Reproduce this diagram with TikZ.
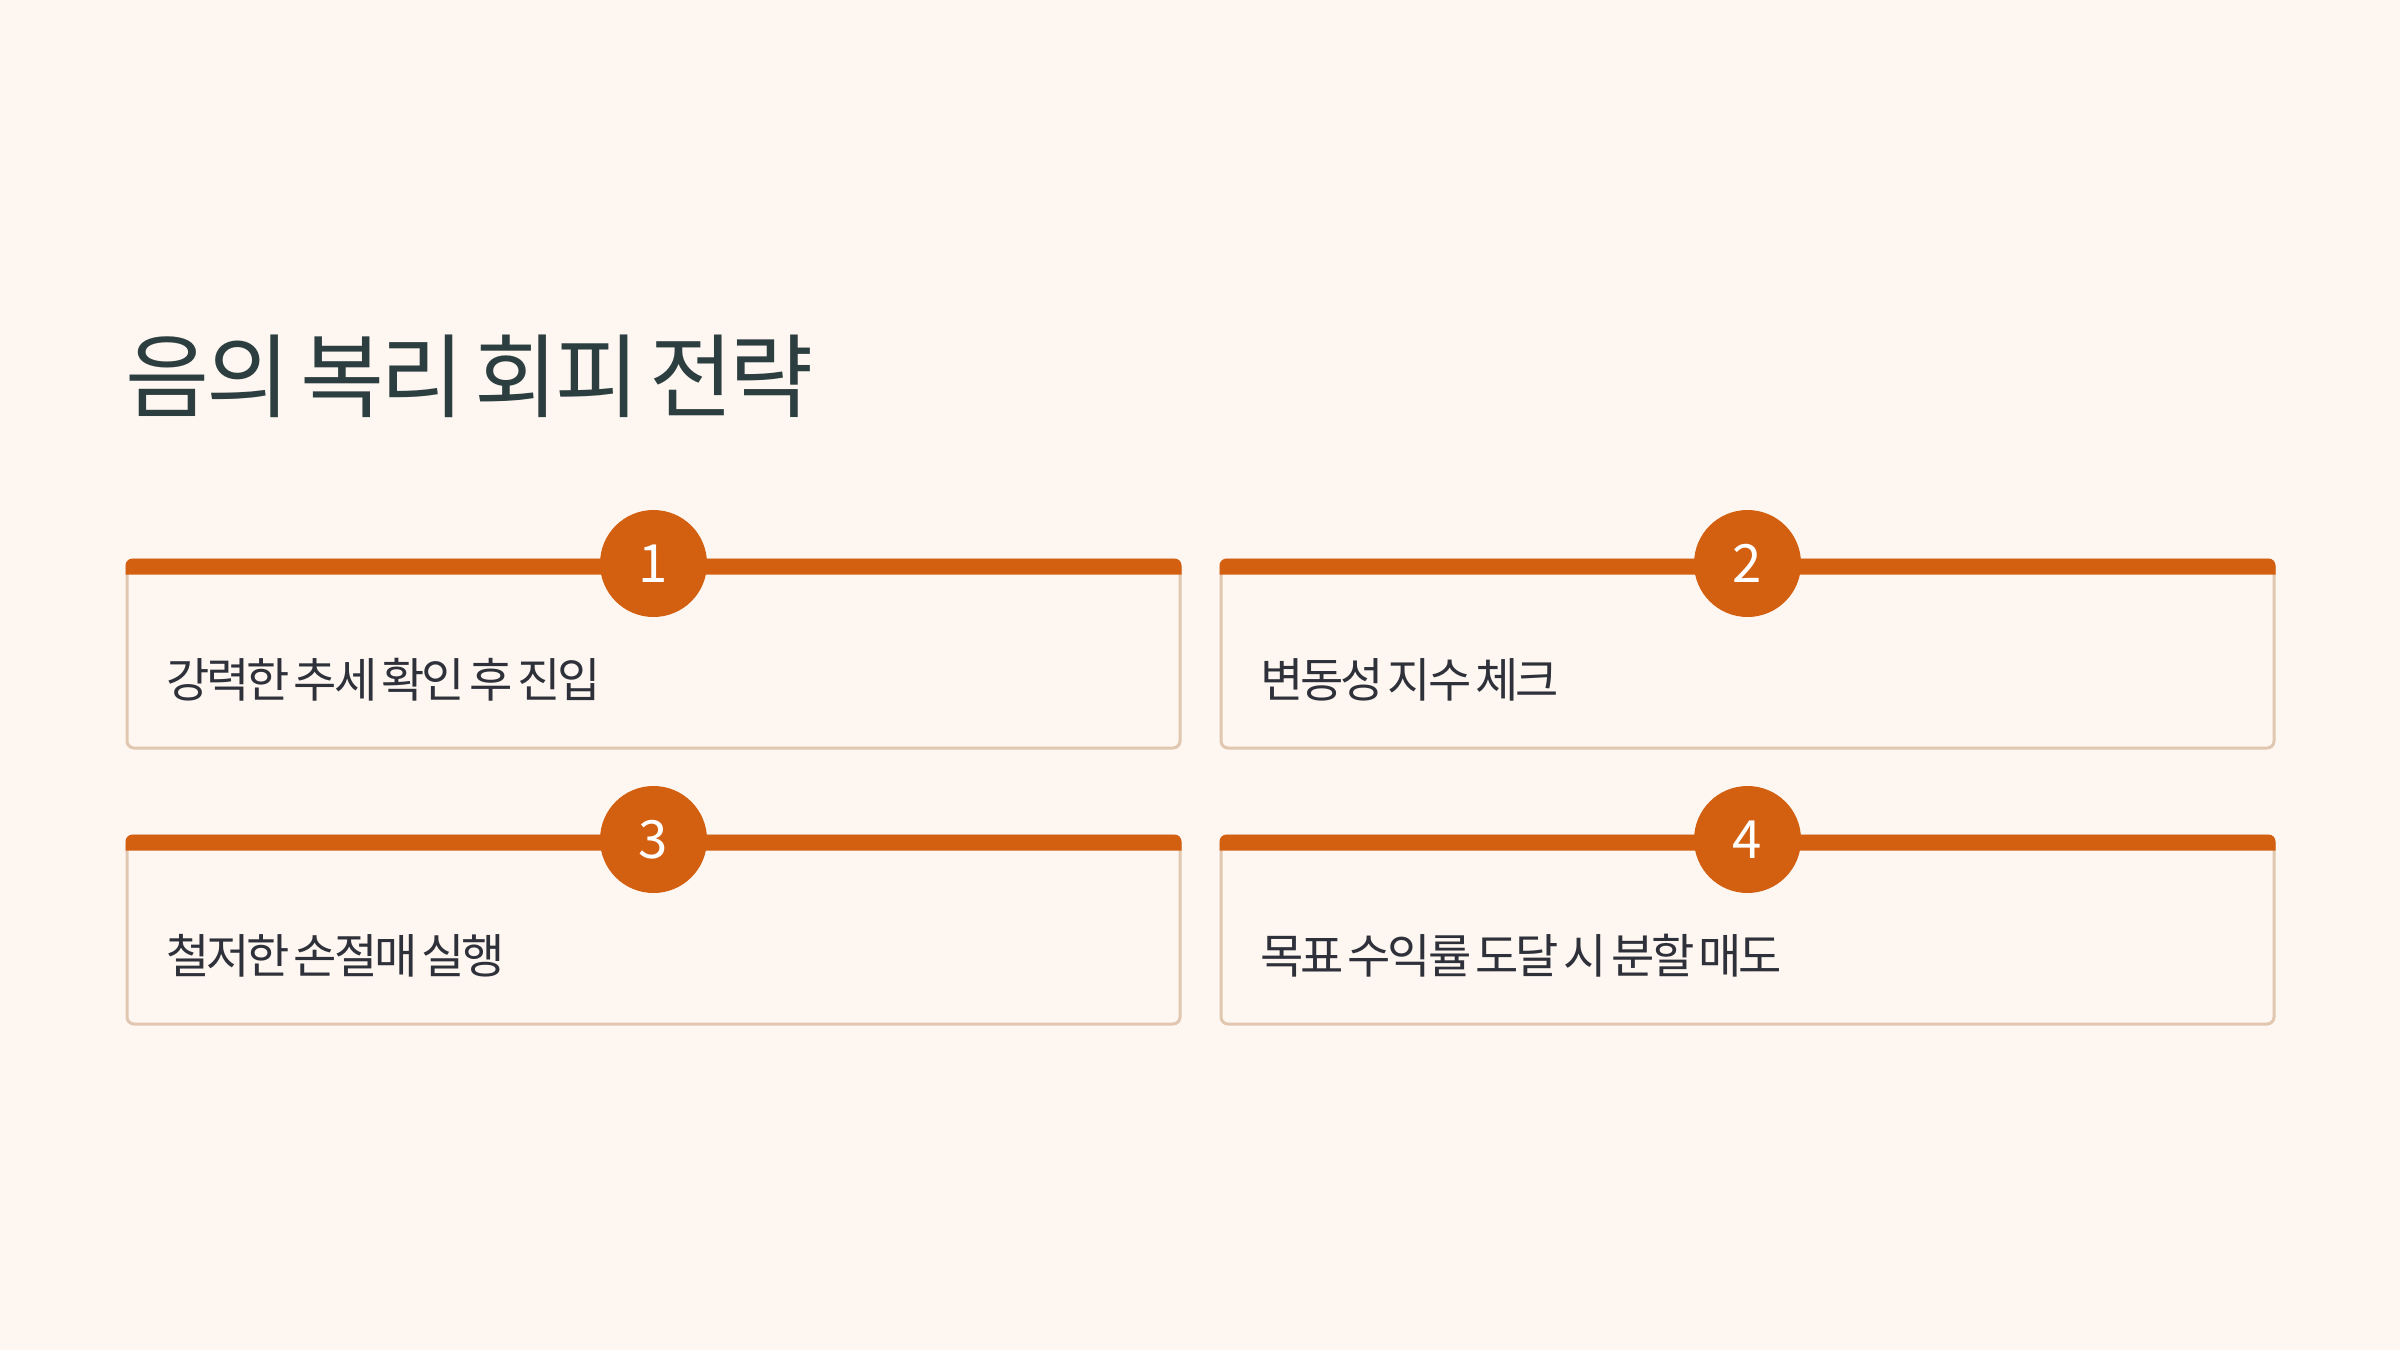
\documentclass[tikz,border=0pt]{standalone}
\usepackage{fontspec}
\setmainfont{Noto Sans CJK KR}[WordSpace=0.6]
\usetikzlibrary{positioning, calc}
\definecolor{paper}{HTML}{FEF7F1}
\definecolor{accent}{HTML}{D35F10}
\definecolor{edgeline}{HTML}{E1C6B0}
\definecolor{headink}{HTML}{2C3E40}
\definecolor{bodyink}{HTML}{2E303A}
\tikzset{
    node distance=0.38cm, % gap between the two columns
    card/.style={ % box with thin beige border
        draw=edgeline,
        line width=0.03cm,
        rounded corners=0.07cm,
        fill=paper,
        minimum width=10.53cm,
        minimum height=1.88cm
    },
    badge/.style={ % numbered orange disc
        circle,
        fill=accent,
        minimum size=1.07cm,
        inner sep=0pt,
        text=white,
        font=\fontsize{15pt}{15pt}\selectfont
    },
    label/.style={ % card text
        anchor=west,
        inner sep=0pt,
        text=bodyink,
        font=\fontsize{13.4pt}{16pt}\selectfont\addfontfeature{LetterSpace=-7}
    }
}
\begin{document}
\begin{tikzpicture}
    \fill[paper] (0,0) rectangle (24,13.5);
    \useasboundingbox (0,0) rectangle (24,13.5);

    \node[anchor=west, inner sep=0pt, text=headink,
          font=\fontsize{26pt}{30pt}\selectfont\addfontfeature{LetterSpace=-4}] (title) at (1.25,9.74) {음의 복리 회피 전략};

    \node[card]                         (c1) at (6.535,6.96) {};
    \node[card, right=of c1]            (c2) {};
    \node[card, below=0.85cm of c1]     (c3) {};
    \node[card, below=0.85cm of c2]     (c4) {};

    % orange top edge of each card
    \foreach \c in {c1,c2,c3,c4}{
        \fill[accent] ([yshift=-0.16cm]\c.north west)
            {[rounded corners=0.07cm] -- (\c.north west) -- (\c.north east)}
            -- ([yshift=-0.16cm]\c.north east) -- cycle;
    }

    \node[badge] (n1) at ([yshift=-0.05cm]c1.north) {1};
    \node[badge] (n2) at ([yshift=-0.05cm]c2.north) {2};
    \node[badge] (n3) at ([yshift=-0.05cm]c3.north) {3};
    \node[badge] (n4) at ([yshift=-0.05cm]c4.north) {4};

    \node[label] (t1) at ([xshift=0.40cm,yshift=-0.26cm]c1.west) {강력한 추세 확인 후 진입};
    \node[label] (t2) at ([xshift=0.40cm,yshift=-0.26cm]c2.west) {변동성 지수 체크};
    \node[label] (t3) at ([xshift=0.40cm,yshift=-0.26cm]c3.west) {철저한 손절매 실행};
    \node[label] (t4) at ([xshift=0.40cm,yshift=-0.26cm]c4.west) {목표 수익률 도달 시 분할 매도};
\end{tikzpicture}
\end{document}
